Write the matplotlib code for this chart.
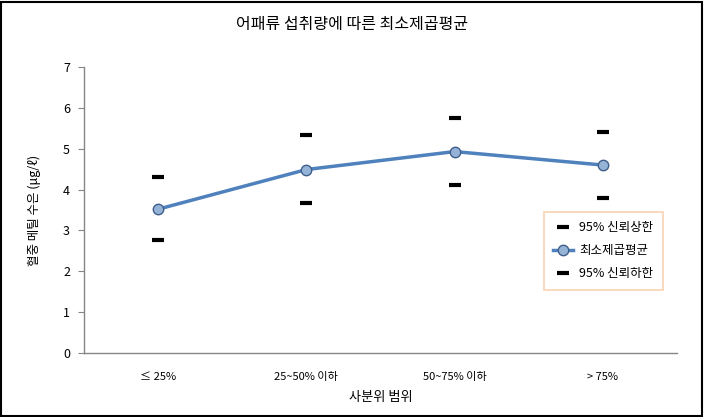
import matplotlib
matplotlib.use("Agg")
import matplotlib.pyplot as plt

plt.rcParams['font.family'] = ['Noto Sans CJK KR', 'DejaVu Sans']

categories = ['≤ 25%', '25~50% 이하', '50~75% 이하', '> 75%']
mean_vals = [3.52, 4.49, 4.93, 4.60]
upper_vals = [4.31, 5.33, 5.74, 5.40]
lower_vals = [2.77, 3.66, 4.12, 3.79]

fig = plt.figure(figsize=(7.04, 4.17), dpi=100)
ax = fig.add_axes([84 / 704, (417 - 353) / 417, (677 - 84) / 704, (353 - 67) / 417])

x = range(len(categories))
ax.plot(x, upper_vals, linestyle='none', marker='_', markersize=8.5, mew=3,
        color='black', label='95% 신뢰상한')
ax.plot(x, mean_vals, color='#4F81BD', linewidth=2.5, marker='o', markersize=7.5,
        markerfacecolor='#95B3D7', markeredgecolor='#3F5F8A', markeredgewidth=1,
        label='최소제곱평균')
ax.plot(x, lower_vals, linestyle='none', marker='_', markersize=8.5, mew=3,
        color='black', label='95% 신뢰하한')

ax.set_xlim(-0.5, len(categories) - 0.5)
ax.set_ylim(0, 7)
ax.set_yticks(range(8))
ax.set_xticks(list(x))
ax.set_xticklabels(categories, fontsize=8)
ax.tick_params(axis='y', labelsize=9, length=4, color='#868686', direction='out', pad=6)
ax.tick_params(axis='x', length=0, pad=14)

for s in ['top', 'right']:
    ax.spines[s].set_visible(False)
for s in ['left', 'bottom']:
    ax.spines[s].set_color('#868686')
    ax.spines[s].set_linewidth(1)

ax.set_xlabel('사분위 범위', fontsize=9.5, labelpad=6)
ax.set_ylabel('혈중 메틸 수은 (μg/ℓ)', fontsize=9, labelpad=16)
fig.text(0.5, 1 - 24 / 417, '어패류 섭취량에 따른 최소제곱평균', ha='center', va='center', fontsize=11.5)

leg = ax.legend(loc='upper left', bbox_to_anchor=(0.775, 0.493), fontsize=9,
                frameon=True, fancybox=False, handlelength=1.6, handletextpad=0.5,
                borderpad=0.75, borderaxespad=0, labelspacing=0.8)
leg.get_frame().set_edgecolor('#F6C89F')
leg.get_frame().set_linewidth(1.2)

fig.patches.append(plt.Rectangle((0.002, 0.003), 0.995, 0.993, transform=fig.transFigure,
                                 fill=False, edgecolor='black', linewidth=1.5))

fig.savefig('out.png', dpi=100)
